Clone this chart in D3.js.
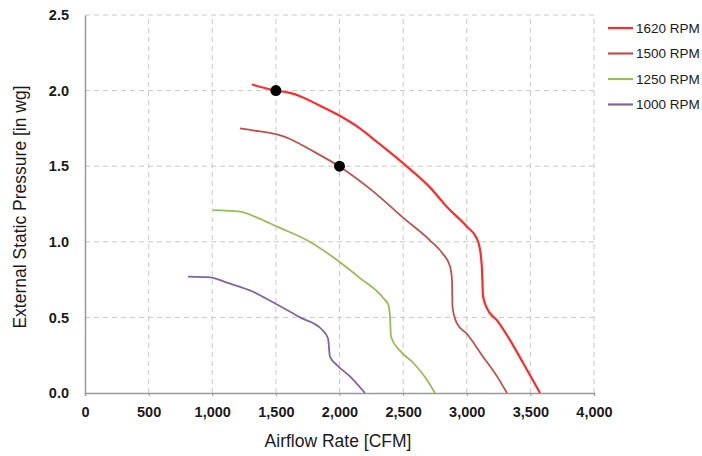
<!DOCTYPE html>
<html>
<head>
<meta charset="utf-8">
<script src="https://cdn.jsdelivr.net/npm/d3@7"></script>
<style>
  body { margin: 0; background: #fff; }
  svg { font-family: "Liberation Sans", Arial, sans-serif; }
</style>
</head>
<body>
<div id="chart"></div>
<script>
// fan curves: [CFM, in wg]
var rpm1620 = [[1312,2.04],[1500,2.0],[1611,1.985],[1700,1.96],[1823,1.91],[1988,1.84],[2161,1.75],[2295,1.66],[2499,1.52],[2711,1.36],[2845,1.23],[3002,1.10],[3080,1.02],[3104,0.95],[3120,0.81],[3128,0.64],[3159,0.56],[3238,0.48],[3340,0.35],[3442,0.20],[3576,0.0]];
var rpm1500 = [[1218,1.75],[1375,1.73],[1509,1.71],[1611,1.68],[1768,1.61],[1996,1.50],[2255,1.34],[2499,1.16],[2711,1.01],[2813,0.92],[2868,0.84],[2884,0.75],[2888,0.57],[2923,0.46],[3002,0.39],[3128,0.24],[3238,0.11],[3316,0.0]];
var rpm1250 = [[1006,1.21],[1218,1.20],[1352,1.16],[1509,1.10],[1745,1.01],[1980,0.88],[2161,0.76],[2342,0.63],[2385,0.58],[2397,0.50],[2405,0.37],[2475,0.28],[2578,0.20],[2688,0.086],[2750,0.0]];
var rpm1000 = [[809,0.77],[982,0.765],[1116,0.73],[1320,0.67],[1477,0.60],[1690,0.50],[1862,0.42],[1910,0.36],[1925,0.24],[1980,0.185],[2082,0.11],[2200,0.0]];
var seriesNames = ['1620 RPM', '1500 RPM', '1250 RPM', '1000 RPM'];
var seriesColors = ['#ff2b2b', '#c0504d', '#9bbb59', '#8064a2'];
var designPoints = [[1500, 2.0], [2000, 1.5]];
var xTicks = [0, 500, 1000, 1500, 2000, 2500, 3000, 3500, 4000];
var yTicks = [0, 0.5, 1.0, 1.5, 2.0, 2.5];

var W = 702, H = 456;
var m = {left: 85, right: 108, top: 15, bottom: 63};

var svg = d3.select('#chart').append('svg')
  .attr('width', W)
  .attr('height', H);

var x = d3.scaleLinear().domain([0, 4000]).range([m.left, W - m.right]);
var y = d3.scaleLinear().domain([0, 2.5]).range([H - m.bottom, m.top]);

// grid
svg.append('g').selectAll('line.v')
  .data(xTicks.slice(1))
  .enter().append('line')
    .attr('x1', function(d){ return x(d); })
    .attr('x2', function(d){ return x(d); })
    .attr('y1', y(0)).attr('y2', y(2.5))
    .attr('stroke', '#c8c8c8').attr('stroke-dasharray', '5,4');
svg.append('g').selectAll('line.h')
  .data(yTicks.slice(1))
  .enter().append('line')
    .attr('y1', function(d){ return y(d); })
    .attr('y2', function(d){ return y(d); })
    .attr('x1', x(0)).attr('x2', x(4000))
    .attr('stroke', '#c8c8c8').attr('stroke-dasharray', '5,4');

// axes
var xAxis = svg.append('g')
  .attr('transform', 'translate(0,' + y(0) + ')')
  .call(d3.axisBottom(x).tickValues(xTicks).tickSize(3).tickFormat(d3.format(',')));
var yAxis = svg.append('g')
  .attr('transform', 'translate(' + x(0) + ',0)')
  .call(d3.axisLeft(y).tickValues(yTicks).tickSize(0).tickFormat(d3.format('.1f')));

[xAxis, yAxis].forEach(function(a){
  a.select('.domain').attr('stroke', '#999').attr('stroke-width', 1.5);
  a.selectAll('.tick line').attr('stroke', '#999');
  a.selectAll('.tick text')
    .attr('fill', '#1a1a1a')
    .style('font-size', '14.5px')
    .style('font-weight', 'bold');
});
xAxis.selectAll('.tick text').attr('y', 14).attr('dy', '0.71em');
yAxis.selectAll('.tick text').attr('x', -16);

// titles
svg.append('text')
  .attr('x', 338).attr('y', 447)
  .attr('text-anchor', 'middle')
  .attr('fill', '#1a1a1a')
  .style('font-size', '17.5px')
  .text('Airflow Rate [CFM]');
svg.append('text')
  .attr('transform', 'translate(26,' + 207 + ') rotate(-90)')
  .attr('text-anchor', 'middle')
  .attr('fill', '#1a1a1a')
  .style('font-size', '17.5px')
  .text('External Static Pressure [in wg]');

// curves
var line = d3.line()
  .x(function(d){ return x(d[0]); })
  .y(function(d){ return y(d[1]); })
  .curve(d3.curveMonotoneX);

var allSeries = [rpm1620, rpm1500, rpm1250, rpm1000];
svg.append('g').selectAll('path')
  .data(allSeries)
  .enter().append('path')
    .attr('d', line)
    .attr('fill', 'none')
    .attr('stroke', function(d, i){ return seriesColors[i]; })
    .attr('stroke-width', function(d, i){ return i === 0 ? 2.2 : 1.8; });

// design points
svg.append('g').selectAll('circle')
  .data(designPoints)
  .enter().append('circle')
    .attr('cx', function(d){ return x(d[0]); })
    .attr('cy', function(d){ return y(d[1]); })
    .attr('r', 5.5)
    .attr('fill', '#000');

// legend
var leg = svg.append('g').attr('transform', 'translate(608,28)');
var item = leg.selectAll('g')
  .data(seriesNames)
  .enter().append('g')
    .attr('transform', function(d, i){ return 'translate(0,' + (i * 25.5) + ')'; });
item.append('line')
  .attr('x1', 0).attr('x2', 25)
  .attr('stroke', function(d, i){ return seriesColors[i]; })
  .attr('stroke-width', 2.2);
item.append('text')
  .attr('x', 28).attr('dy', '0.35em')
  .attr('fill', '#1a1a1a')
  .style('font-size', '13.5px')
  .text(function(d){ return d; });
</script>
</body>
</html>
